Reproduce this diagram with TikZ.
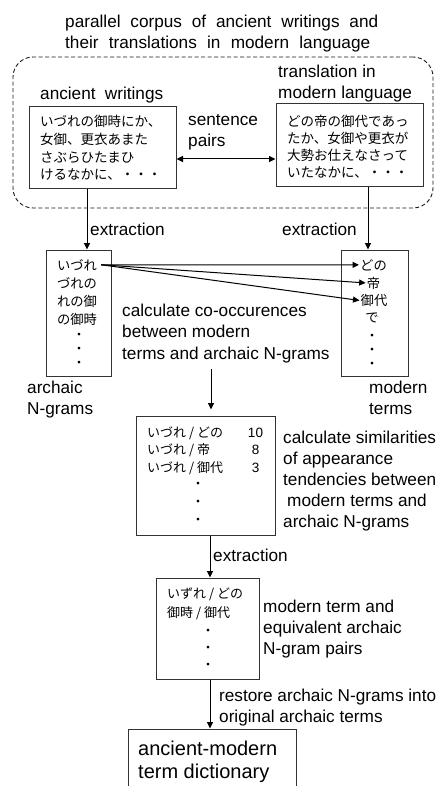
\documentclass[tikz,border=0pt]{standalone}
\usepackage{fontspec}
\setmainfont{Liberation Sans}
\newfontfamily\jp{Noto Sans CJK JP}
\usetikzlibrary{arrows.meta}
\begin{document}
% multi-line nodes are placed by the baseline of their last line
\begin{tikzpicture}[x=1pt,y=-1pt,
  lat/.style={font=\fontsize{17.2}{21}\selectfont, inner sep=0pt, align=left, anchor=base west},
  jpt/.style={font=\jp\fontsize{13.5}{17.7}\selectfont, inner sep=0pt, align=left, anchor=base west},
  jcol/.style={font=\jp\fontsize{13.3}{18.3}\selectfont, inner ysep=0pt, inner xsep=1pt, align=center, anchor=base},
  dotcol/.style={font=\jp\fontsize{13}{14}\selectfont, inner sep=0pt, align=center, anchor=base},
  box/.style={draw=black!80, line width=1pt, rectangle, inner sep=0pt},
  corpusbox/.style={draw=black!90, line width=0.9pt, dash pattern=on 4pt off 2.5pt, rounded corners=20pt, inner sep=0pt},
  arr/.style={-{Triangle[length=6.5pt,width=6pt]}, line width=1pt},
  dblarr/.style={{Triangle[length=6.5pt,width=6pt]}-{Triangle[length=6.5pt,width=6pt]}, line width=1pt}
]
\useasboundingbox (0,0) rectangle (439,786);
\clip (0,0) rectangle (439,786);

% ---- parallel corpus ----
\node[lat, font=\fontsize{17.2}{20.5}\selectfont] (title) at (65,48.5) {\makebox[313pt][s]{parallel corpus of ancient writings and}\\\makebox[305pt][s]{their translations in modern language}};
\node[corpusbox, minimum width=420pt, minimum height=151pt] (corpus) at (223,132.5) {};

\node[lat] (srclab) at (40,100) {\makebox[123pt][s]{ancient writings}};
\node[lat] (tgtlab) at (278,99) {translation in\\modern language};

\node[box, minimum width=147pt, minimum height=82pt] (srcbox) at (102.5,148) {};
\node[box, minimum width=147pt, minimum height=83pt] (tgtbox) at (349.5,145.5) {};

\node[jpt] (srctext) at (40,180) {いづれの御時にか、\\女御、更衣あまた\\さぶらひたまひ\\けるなかに、・・・};
\node[jpt, font=\jp\fontsize{13.5}{17}\selectfont] (tgttext) at (287,178) {どの帝の御代であっ\\たか、女御や更衣が\\大勢お仕えなさって\\いたなかに、・・・};

\node[lat] (pairs) at (188,147) {sentence\\pairs};
\coordinate (pairy) at (0,159);
\draw[dblarr] (srcbox.east |- pairy) -- (tgtbox.west |- pairy);

% ---- extraction of N-grams and terms ----
\coordinate (xl) at (87,0);
\coordinate (xr) at (368,0);
\node[box, minimum width=65pt, minimum height=126pt] (ngbox) at (78.5,313) {};
\node[box, minimum width=67pt, minimum height=126pt] (mtbox) at (374.5,313) {};
\draw[arr] (srcbox.south -| xl) -- (ngbox.north -| xl);
\draw[arr] (tgtbox.south -| xr) -- (mtbox.north -| xr);
\node[lat] (extl) at (90,235) {extraction};
\node[lat] (extr) at (282,235) {extraction};

\node[jcol, inner xsep=4pt] (a1) at (77,270) {いづれ};
\node[jcol] (arest) at (77,324.6) {づれの\\れの御\\の御時};
\node[dotcol] (adots) at (79,367) {・\\・\\・};

\node[jcol] (m1) at (373.5,270) {どの};
\node[jcol] (m2) at (373.5,288) {帝};
\node[jcol] (m3) at (374,305.5) {御代};
\node[jcol] (m4) at (372,322) {で};
\node[dotcol] (mdots) at (372,368) {・\\・\\・};

\draw[arr] (a1.east) -- (m1.west);
\draw[arr] (a1.east) -- (m2.west);
\draw[arr] (a1.east) -- (m3.west);

\node[lat] (nglab) at (27,414) {archaic\\N-grams};
\node[lat] (mtlab) at (369,414) {modern\\terms};

% ---- co-occurrence counts ----
\node[lat, font=\fontsize{17.2}{21.5}\selectfont] (cooc) at (122,359) {calculate co-occurences\\between modern\\terms and archaic N-grams};
\coordinate (c1) at (211,369);
\node[box, minimum width=139pt, minimum height=119pt] (cobox) at (205.5,475.5) {};
\draw[arr, shorten >=6pt] (c1) -- (cobox.north -| c1);

\node[jpt, font=\jp\fontsize{13}{17.5}\selectfont] (copairs) at (147,472) {いづれ / どの\\いづれ / 帝\\いづれ / 御代};
\node[font=\fontsize{13.5}{17.5}\selectfont, inner sep=0pt, align=center, anchor=base] (conum) at (255.5,472) {10\\8\\3};
\node[dotcol, font=\jp\fontsize{13}{18}\selectfont] (codots) at (198,524) {・\\・\\・};

\node[lat] (simlab) at (283,527) {calculate similarities\\of appearance\\tendencies between\\\hspace{4pt}modern terms and\\archaic N-grams};

% ---- extracted pairs ----
\coordinate (xm) at (210,0);
\node[box, minimum width=103pt, minimum height=101pt] (pairbox) at (207.5,628.5) {};
\draw[arr] (cobox.south -| xm) -- (pairbox.north -| xm);
\node[lat] (extm) at (213,561) {extraction};

\node[jpt, font=\jp\fontsize{13}{19.5}\selectfont] (eqpairs) at (167,617.5) {いずれ / どの\\御時 / 御代};
\node[dotcol, font=\jp\fontsize{13}{17}\selectfont] (eqdots) at (208,669) {・\\・\\・};
\node[lat] (eqlab) at (263,654) {modern term and\\equivalent archaic\\N-gram pairs};

% ---- dictionary ----
\node[box, minimum width=168pt, minimum height=81pt] (dict) at (212,769.5) {};
\draw[arr] (pairbox.south -| xm) -- (dict.north -| xm);
\node[lat] (restore) at (219,722) {restore archaic N-grams into\\original archaic terms};
\node[lat, font=\fontsize{20}{23.3}\selectfont] (dictlab) at (138,778.3) {ancient-modern\\term dictionary};
\end{tikzpicture}
\end{document}
